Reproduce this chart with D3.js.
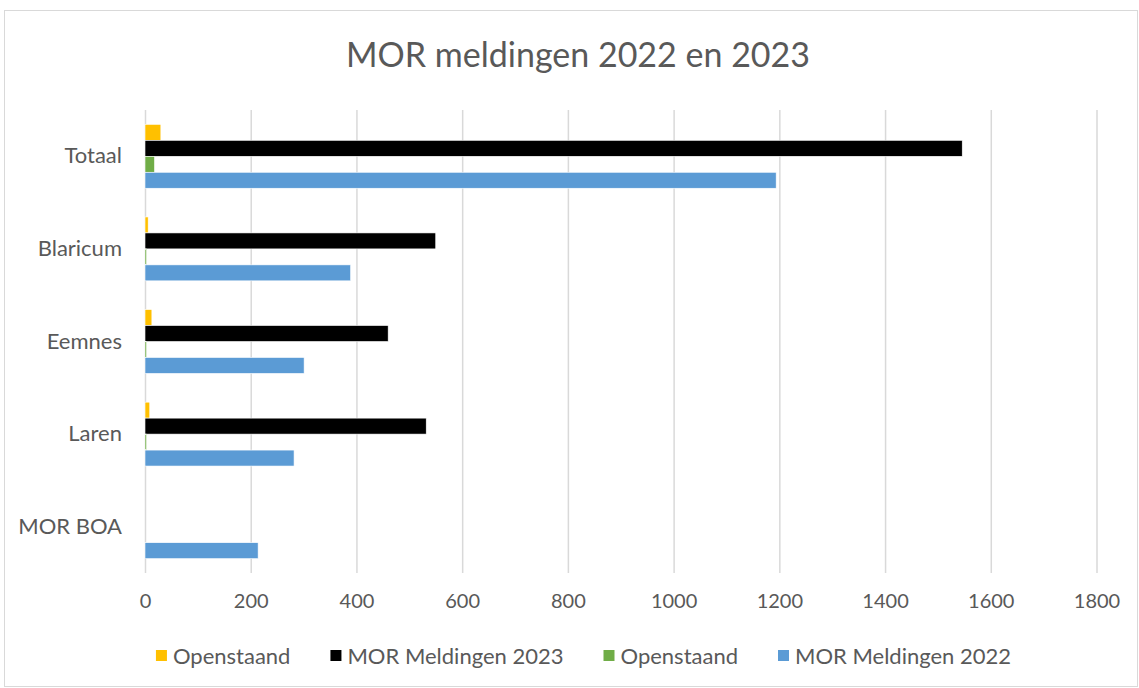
<!DOCTYPE html>
<html><head><meta charset="utf-8">
<script src="https://cdn.jsdelivr.net/npm/d3@7"></script>
<style>body{margin:0;background:#fff;} svg{display:block;}</style>
</head><body>
<svg id="chart" width="1139" height="688"></svg>
<script>
const categories = ["Totaal", "Blaricum", "Eemnes", "Laren", "MOR BOA"];
const seriesNames = ["Openstaand", "MOR Meldingen 2023", "Openstaand", "MOR Meldingen 2022"];
const openstaand2023 = [30, 6, 13, 9, 0];
const meldingen2023 = [1546, 550, 460, 532, 0];
const openstaand2022 = [18, 3, 3, 3, 0];
const meldingen2022 = [1194, 389, 301, 282, 214];
const xTicks = [0, 200, 400, 600, 800, 1000, 1200, 1400, 1600, 1800];
const colors = ["#FFC000", "#000000", "#70AD47", "#5B9BD5"];
const title = "MOR meldingen 2022 en 2023";

const series = [openstaand2023, meldingen2023, openstaand2022, meldingen2022];
const font = "Lato, 'Open Sans', sans-serif";
const svg = d3.select("#chart");

svg.append("rect").attr("x", 4.5).attr("y", 10.5).attr("width", 1133).attr("height", 676)
  .attr("fill", "#fff").attr("stroke", "#d9d9d9").attr("stroke-width", 1);

const margin = {left: 145, right: 1096.5, top: 110, bottom: 573};
const x = d3.scaleLinear().domain([0, 1800]).range([margin.left, margin.right]);
const y = d3.scaleBand().domain(categories).range([margin.top, margin.bottom]).paddingInner(0.31).paddingOuter(0.155);
const ySub = d3.scaleBand().domain(d3.range(series.length)).range([0, y.bandwidth()]);

svg.append("text").attr("x", 578).attr("y", 67).attr("text-anchor", "middle")
  .attr("font-family", font).attr("font-size", 34).attr("fill", "#595959").text(title);

// gridlines
const grid = svg.append("g").attr("transform", `translate(0,${margin.bottom})`)
  .call(d3.axisBottom(x).tickValues(xTicks).tickSize(-(margin.bottom - margin.top)).tickFormat(""));
grid.select(".domain").remove();
grid.selectAll("line").attr("stroke", "#d9d9d9").attr("stroke-width", 1.5);

// tick labels
const xAxis = svg.append("g").attr("transform", `translate(0,${margin.bottom})`)
  .call(d3.axisBottom(x).tickValues(xTicks).tickSize(0).tickPadding(21).tickFormat(d3.format("d")));
xAxis.select(".domain").remove();
xAxis.selectAll("text").attr("font-family", font).attr("font-size", 20).attr("fill", "#595959");

const yAxis = svg.append("g").attr("transform", `translate(${margin.left},0)`)
  .call(d3.axisLeft(y).tickSize(0).tickPadding(23));
yAxis.select(".domain").remove();
yAxis.selectAll("text").attr("font-family", font).attr("font-size", 22).attr("fill", "#595959");

// bars
categories.forEach((c, i) => {
  const g = svg.append("g").attr("transform", `translate(0,${y(c)})`);
  g.selectAll("rect").data(series.map((s, k) => ({k, v: s[i]})).filter(d => d.v > 0))
    .enter().append("rect")
    .attr("x", x(0)).attr("y", d => ySub(d.k))
    .attr("width", d => x(d.v) - x(0)).attr("height", ySub.bandwidth())
    .attr("fill", d => colors[d.k]).attr("stroke", "#fff").attr("stroke-width", 0.6);
});

// legend
const legend = svg.append("g").attr("transform", "translate(0,656)");
const items = [];
seriesNames.forEach((name, k) => {
  const it = legend.append("g");
  it.append("rect").attr("x", 0).attr("y", -6).attr("width", 11).attr("height", 11).attr("fill", colors[k]);
  const t = it.append("text").attr("x", 17).attr("y", 0).attr("dy", "0.35em")
    .attr("font-family", font).attr("font-size", 22).attr("fill", "#595959").text(name);
  items.push({it, w: 17 + t.node().getComputedTextLength()});
});
const gap = 40;
const total = d3.sum(items, d => d.w) + gap * (items.length - 1);
let lx = (1139 - total) / 2 + 14;
items.forEach(d => { d.it.attr("transform", `translate(${lx},0)`); lx += d.w + gap; });
</script>
</body></html>
